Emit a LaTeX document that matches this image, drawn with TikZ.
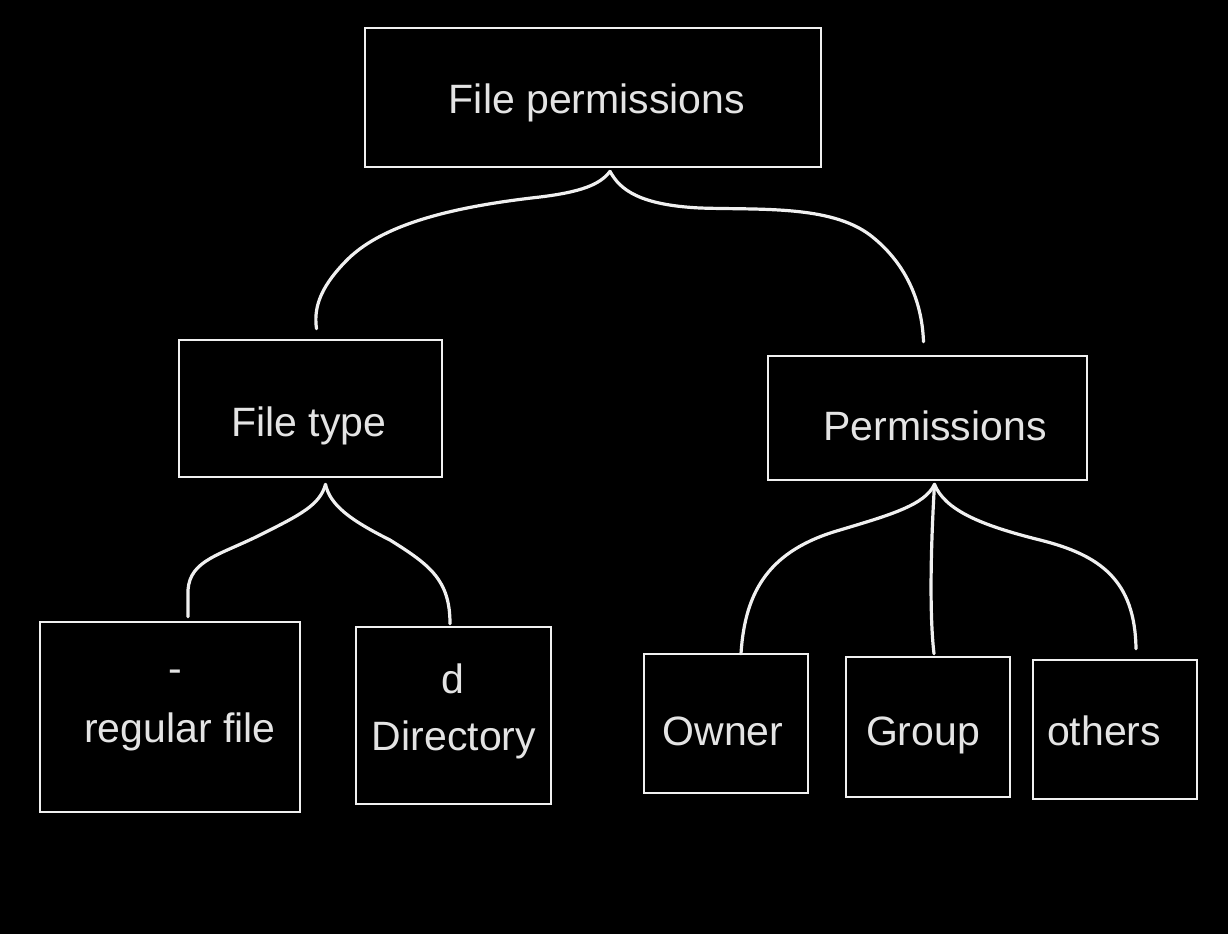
\documentclass[tikz,border=0pt]{standalone}
\usepackage{fontspec}
\setmainfont{Liberation Sans}
\usetikzlibrary{calc}
\definecolor{ink}{RGB}{240,240,240}
\definecolor{txt}{RGB}{228,228,228}
\begin{document}
\begin{tikzpicture}[x=0.5pt,y=-0.5pt,
  box/.style={draw=ink,line width=1.3pt,rectangle,inner sep=0pt},
  lbl/.style={text=txt,font=\fontsize{20.5}{24}\selectfont,inner sep=0pt,anchor=base},
  link/.style={draw=ink,line width=1.6pt,line cap=round,line join=round}]
\fill[black] (0,0) rectangle (1228,934);
\useasboundingbox (0,0) rectangle (1228,934);
% boxes
\node[box,minimum width=228pt,minimum height=69.5pt] (top) at (593,97.5) {};
\node[box,minimum width=131.5pt,minimum height=68.5pt] (ftype) at (310.5,408.5) {};
\node[box,minimum width=159.5pt,minimum height=62pt] (perm) at (927.5,418) {};
\node[box,minimum width=130pt,minimum height=95pt] (reg) at (170,717) {};
\node[box,minimum width=97.5pt,minimum height=88.5pt] (dir) at (453.5,715.5) {};
\node[box,minimum width=82pt,minimum height=69.5pt] (owner) at (726,723.5) {};
\node[box,minimum width=82pt,minimum height=70pt] (group) at (928,727) {};
\node[box,minimum width=82pt,minimum height=69.5pt] (others) at (1115,729.5) {};
% texts (positioned at their baselines)
\node[lbl] (ttop) at (597,113) {File permissions};
\node[lbl] (tftype) at (309,436) {File type};
\node[lbl] (tperm) at (935,440) {Permissions};
\node[lbl] (tdash) at (175,682) {-};
\node[lbl] (treg) at (180,742) {regular file};
\node[lbl] (td) at (453,693) {d};
\node[lbl] (tdir) at (454,750) {Directory};
\node[lbl] (towner) at (723,745) {Owner};
\node[lbl] (tgroup) at (923,745) {Group};
\node[lbl] (tothers) at (1104,745) {others};
% connector anchors
\coordinate (s1) at ($(top.south)+(17,3)$);
\coordinate (s2) at ($(ftype.south)+(15,6)$);
\coordinate (s3) at ($(perm.south)+(7,3)$);
% connectors
\path[link] (s1) .. controls (600,185) and (580,192) .. (540,197)
  .. controls (450,207) and (380,225) .. (345,262)
  .. controls (318,290) and (314,310) .. ($(ftype.north)+(6,-10)$);
\path[link] (s1) .. controls (620,190) and (640,205) .. (700,208)
  .. controls (760,210) and (830,205) .. (870,235)
  .. controls (905,262) and (922,300) .. ($(perm.north)+(-4,-13)$);
\path[link] (s2) .. controls (320,505) and (300,515) .. (260,535)
  .. controls (220,555) and (190,560) .. (188,590) -- ($(reg.north)+(18,-4)$);
\path[link] (s2) .. controls (330,505) and (350,520) .. (390,540)
  .. controls (430,565) and (450,580) .. ($(dir.north)+(-3.5,-2)$);
\path[link] (s3) .. controls (925,505) and (890,515) .. (840,530)
  .. controls (770,550) and (745,590) .. ($(owner.north)+(15,1)$);
\path[link] (s3) .. controls (930,560) and (930,620) .. ($(group.north)+(6,-2)$);
\path[link] (s3) .. controls (945,510) and (980,525) .. (1040,540)
  .. controls (1100,555) and (1135,580) .. ($(others.north)+(21,-10)$);
\end{tikzpicture}
\end{document}
